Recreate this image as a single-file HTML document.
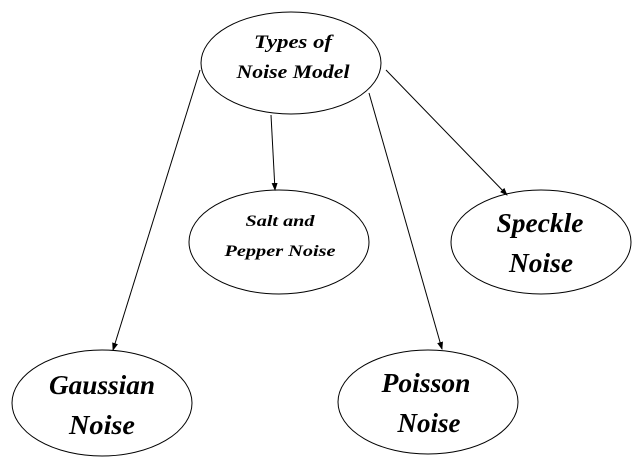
<!DOCTYPE html>
<html><head><meta charset="utf-8"><style>
html,body{margin:0;padding:0;background:#fff;}
svg{display:block}
text{font-family:"Liberation Serif",serif;font-weight:bold;font-style:italic;fill:#000;text-anchor:middle}
</style></head><body>
<svg width="636" height="462" viewBox="0 0 636 462" xmlns="http://www.w3.org/2000/svg">
<defs><marker id="a" markerWidth="8" markerHeight="8" refX="7" refY="4" orient="auto" markerUnits="userSpaceOnUse"><path d="M0,1 L8,4 L0,7 Z" fill="#000"/></marker></defs>
<g fill="none" stroke="#000" stroke-width="1">
<ellipse cx="291" cy="63" rx="90" ry="51"/>
<ellipse cx="279" cy="242" rx="90" ry="52"/>
<ellipse cx="541" cy="242" rx="90" ry="52"/>
<ellipse cx="102" cy="403" rx="90" ry="53"/>
<ellipse cx="428" cy="402" rx="90" ry="52"/>
<line x1="200" y1="70" x2="113" y2="350" marker-end="url(#a)"/>
<line x1="271" y1="115" x2="275" y2="190" marker-end="url(#a)"/>
<line x1="369" y1="93" x2="442" y2="349" marker-end="url(#a)"/>
<line x1="386" y1="70" x2="507" y2="195" marker-end="url(#a)"/>
</g>
<text x="293" y="48" font-size="19" textLength="78" lengthAdjust="spacingAndGlyphs">Types of</text>
<text x="293" y="78" font-size="19" textLength="113" lengthAdjust="spacingAndGlyphs">Noise Model</text>
<text x="280" y="226" font-size="16" textLength="69" lengthAdjust="spacingAndGlyphs">Salt and</text>
<text x="280" y="256" font-size="16" textLength="111" lengthAdjust="spacingAndGlyphs">Pepper Noise</text>
<text x="540" y="232" font-size="27" textLength="87" lengthAdjust="spacingAndGlyphs">Speckle</text>
<text x="541" y="272" font-size="27" textLength="64" lengthAdjust="spacingAndGlyphs">Noise</text>
<text x="102" y="394" font-size="27" textLength="106" lengthAdjust="spacingAndGlyphs">Gaussian</text>
<text x="102" y="434" font-size="27" textLength="66" lengthAdjust="spacingAndGlyphs">Noise</text>
<text x="426" y="392" font-size="27" textLength="89" lengthAdjust="spacingAndGlyphs">Poisson</text>
<text x="429" y="432" font-size="27" textLength="63" lengthAdjust="spacingAndGlyphs">Noise</text>
</svg>
</body></html>
